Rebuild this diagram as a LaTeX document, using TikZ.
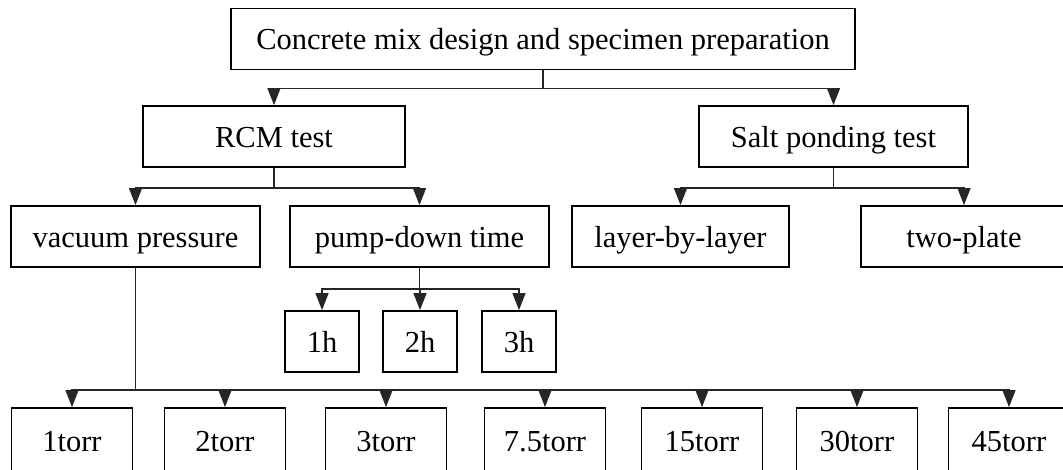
\documentclass[tikz,border=0pt]{standalone}
\usepackage{fontspec}
\setmainfont{Liberation Serif}
\usetikzlibrary{arrows.meta}
\begin{document}
\begin{tikzpicture}[x=1pt,y=1pt,
  box/.style={draw=black,line width=1.8pt,rectangle,inner sep=0pt,minimum height=61pt,
    text height=22pt,text depth=0pt,
    font=\fontsize{30.5}{36}\selectfont},
  tbox/.style={box,minimum width=121pt,minimum height=64pt,yshift=-1.5pt},
  conn/.style={draw=black!85,line width=1.3pt},
  arr/.style={conn,-{Triangle[length=17pt,width=13pt]}}]
\useasboundingbox (0,0) rectangle (1063,469);
\node[box,minimum width=624pt] (top) at (543,430) {Concrete mix design and specimen preparation};
\node[box,minimum width=262pt] (rcm) at (274,332.5) {RCM test};
\node[box,minimum width=269pt] (salt) at (833.5,332.5) {Salt ponding test};
\node[box,minimum width=249pt] (vac) at (135.5,232.5) {vacuum pressure};
\node[box,minimum width=259pt] (pump) at (419.5,232.5) {pump-down time};
\node[box,minimum width=217pt] (layer) at (680.5,232.5) {layer-by-layer};
\node[box,minimum width=206pt] (two) at (964,232.5) {two-plate};
\node[box,minimum width=74pt] (h1) at (322,127.5) {1h};
\node[box,minimum width=74pt] (h2) at (420,127.5) {2h};
\node[box,minimum width=74pt] (h3) at (519,127.5) {3h};
\node[tbox] (t1) at (72,30.5) {1torr};
\node[tbox] (t2) at (225,30.5) {2torr};
\node[tbox] (t3) at (386,30.5) {3torr};
\node[tbox] (t4) at (545,30.5) {7.5torr};
\node[tbox] (t5) at (702,30.5) {15torr};
\node[tbox] (t6) at (857,30.5) {30torr};
\node[tbox] (t7) at (1009,30.5) {45torr};
\foreach \c in {rcm,salt} \draw[arr] (top.south) -- ++(0,-18) -| (\c.north);
\foreach \c in {vac,pump} \draw[arr] (rcm.south) -- ++(0,-20) -| (\c.north);
\foreach \c in {layer,two} \draw[arr] (salt.south) -- ++(0,-20) -| (\c.north);
\foreach \c in {h1,h2,h3} \draw[arr] (pump.south) -- ++(0,-21) -| (\c.north);
\foreach \c in {t1,t2,t3,t4,t5,t6,t7} \draw[arr] (vac.south) -- ++(0,-122) -| (\c.north);
\end{tikzpicture}
\end{document}
